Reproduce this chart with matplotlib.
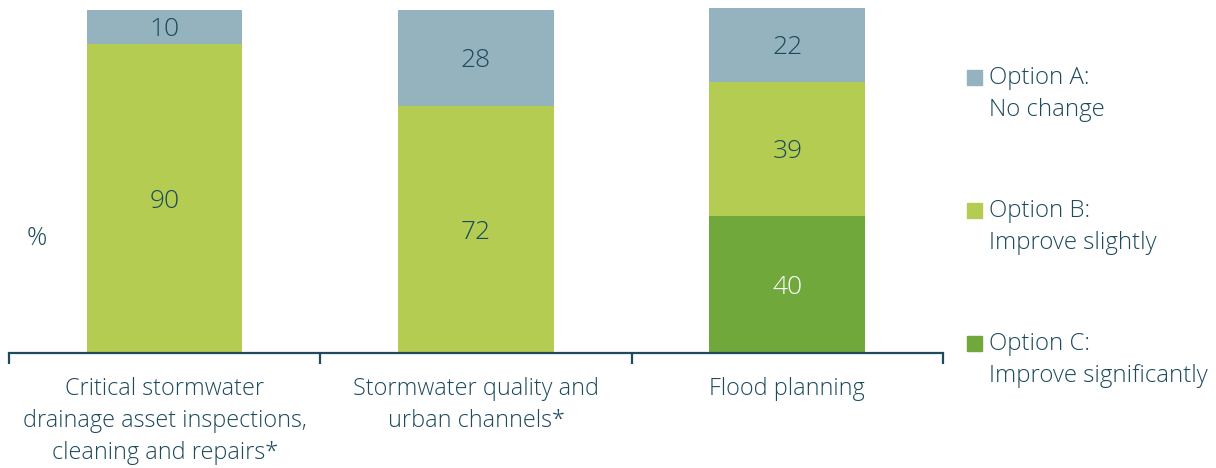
import numpy as np
import matplotlib
matplotlib.use("Agg")
import matplotlib.pyplot as plt
from matplotlib.patches import Rectangle

categories = ["Critical stormwater\ndrainage asset inspections,\ncleaning and repairs*",
              "Stormwater quality and\nurban channels*",
              "Flood planning"]
option_c = [0, 0, 40]
option_b = [90, 72, 39]
option_a = [10, 28, 22]
series_names = ["Option A:\nNo change", "Option B:\nImprove slightly", "Option C:\nImprove significantly"]

col_a = "#95b2bf"
col_b = "#b4cc52"
col_c = "#70a83b"
txt = "#1d4a5c"

plt.rcParams['font.family'] = ['Open Sans', 'DejaVu Sans']
plt.rcParams['font.weight'] = 'light'

fig = plt.figure(figsize=(12.16, 4.68), dpi=100)
ax = fig.add_axes([9 / 1216, 1 - 353 / 468, (943 - 9) / 1216, 345 / 468])

x = np.arange(len(categories))
c = np.array(option_c)
b = np.array(option_b)
a = np.array(option_a)
w = 0.5
ax.bar(x, c, w, color=col_c, zorder=2)
ax.bar(x, b, w, bottom=c, color=col_b, zorder=2)
ax.bar(x, a, w, bottom=c + b, color=col_a, zorder=2)

for i in range(len(x)):
    if c[i] > 0:
        ax.text(x[i], c[i] / 2, str(c[i]), ha="center", va="center_baseline", fontsize=19, color="white")
    if b[i] > 0:
        ax.text(x[i], c[i] + b[i] / 2, str(b[i]), ha="center", va="center_baseline", fontsize=19, color=txt)
    if a[i] > 0:
        ax.text(x[i], c[i] + b[i] + a[i] / 2, str(a[i]), ha="center", va="center_baseline", fontsize=19, color=txt)

ax.set_xlim(-0.5, 2.5)
ax.set_ylim(0, 100.5)
for s in ["top", "right", "left"]:
    ax.spines[s].set_visible(False)
ax.spines["bottom"].set_color(txt)
ax.spines["bottom"].set_linewidth(1.6)
ax.set_yticks([])

ax.set_xticks([-0.5, 0.5, 1.5, 2.5])
ax.set_xticklabels([])
ax.tick_params(axis="x", which="major", length=8, width=1.6, color=txt, direction="out")
ax.set_xticks(x, minor=True)
ax.set_xticklabels(categories, minor=True, fontsize=16.8, color=txt, linespacing=1.45)
ax.tick_params(axis="x", which="minor", length=0, pad=17)

ax.text(0.030, 0.34, "%", transform=ax.transAxes, ha="center", va="center_baseline", fontsize=18, color=txt)

# legend drawn by hand so the swatch sits on the first line
cols = [col_a, col_b, col_c]
first_line_y = [77, 210, 343]
for name, col, yl in zip(series_names, cols, first_line_y):
    fig.patches.append(Rectangle((967 / 1216, 1 - (yl + 7.5) / 468), 15 / 1216, 15 / 468,
                                 transform=fig.transFigure, color=col))
    fig.text(989 / 1216, 1 - (yl + 17) / 468, name, ha="left", va="center", fontsize=17.3,
             color=txt, linespacing=1.43)

fig.savefig("out.png", dpi=100)
